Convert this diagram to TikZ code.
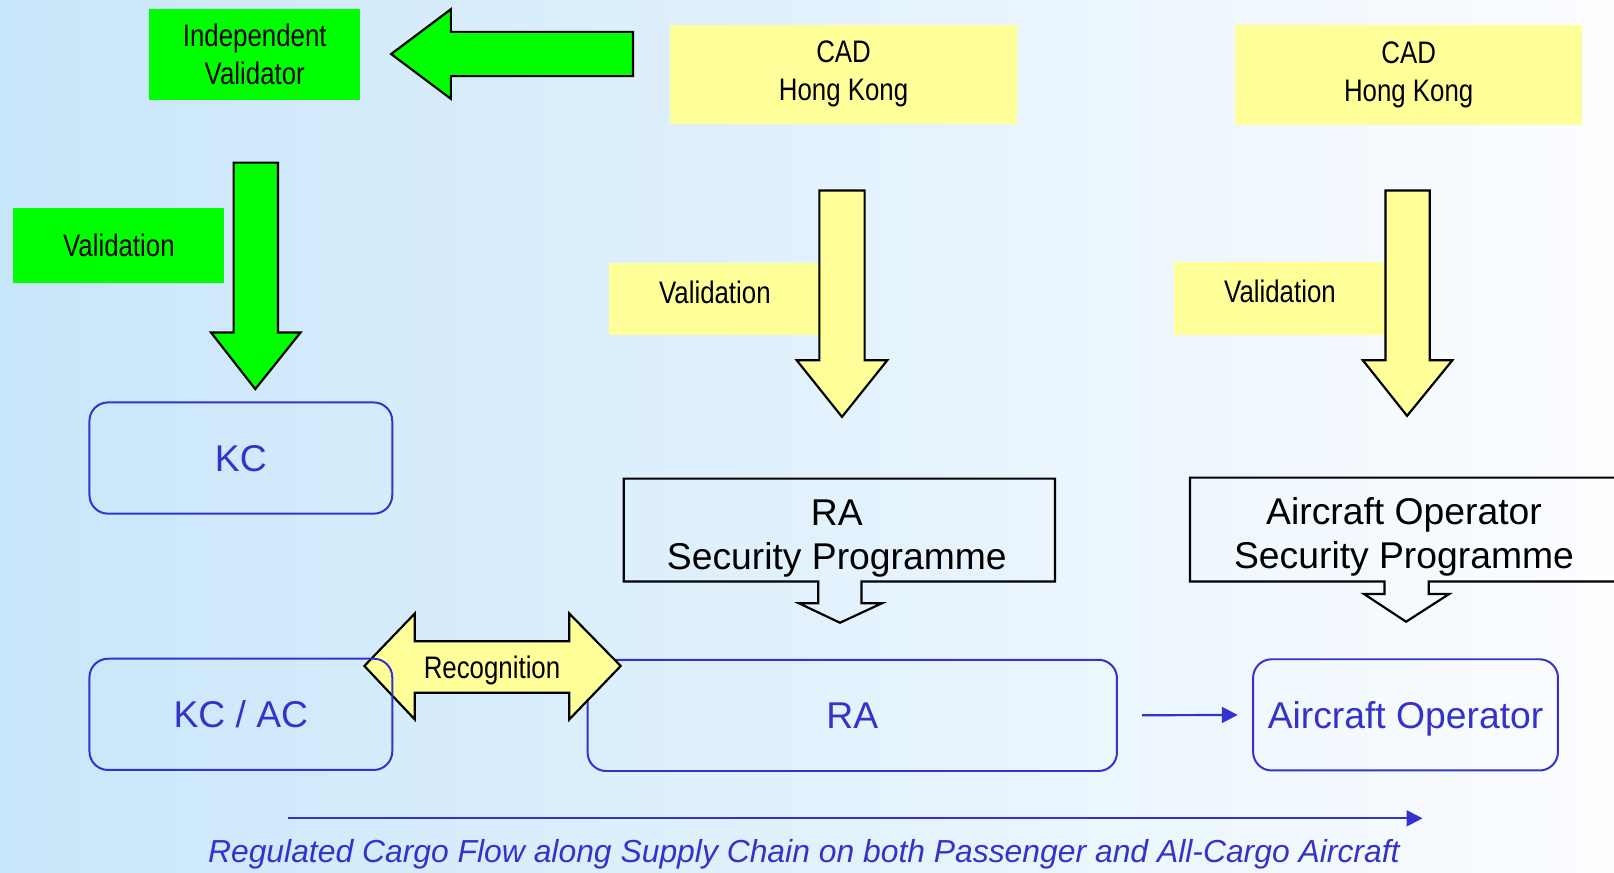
\documentclass[tikz,border=0pt]{standalone}
\usepackage{fontspec}
\setmainfont{Liberation Sans}
\newfontfamily\narrowsf[FakeStretch=0.83]{Liberation Sans}
\usetikzlibrary{arrows.meta}
\definecolor{cblue}{RGB}{51,51,204}
\definecolor{vgreen}{RGB}{0,255,0}
\definecolor{pyellow}{RGB}{255,255,153}
\definecolor{bgleft}{RGB}{200,230,250}
\definecolor{bgright}{RGB}{252,253,255}
\tikzset{
  smalltext/.style={font=\narrowsf\fontsize{8.6}{10.4}\selectfont, align=center, text=black},
  gbox/.style={smalltext, fill=vgreen, inner sep=0pt},
  ybox/.style={smalltext, fill=pyellow, inner sep=0pt},
  rbox/.style={draw=cblue, line width=0.55pt, rounded corners=0.18cm, minimum height=1.08cm,
               text=cblue, font=\fontsize{10.3}{12}\selectfont, inner sep=0pt, text depth=0pt},
  blockarrow/.style={draw=black, line width=0.6pt, line join=miter},
  calltext/.style={font=\fontsize{10.3}{12.2}\selectfont, align=center, text=black},
  flow/.style={draw=cblue, line width=0.6pt, -{Triangle[length=4.4pt,width=4.4pt]}},
  caption/.style={font=\itshape\fontsize{8.8}{10}\selectfont, text=cblue}
}
\begin{document}
\begin{tikzpicture}[x=0.01cm,y=-0.01cm]
\shade[left color=bgleft, right color=bgright] (0,0) rectangle (1568,847.2);
\useasboundingbox (0,0) rectangle (1568,847.2);
\clip (0,0) rectangle (1568,847.2);

% top boxes
\node[gbox, minimum width=2.05cm, minimum height=0.88cm] (iv) at (247.5,53) {Independent\\Validator};
\node[gbox, minimum width=2.05cm, minimum height=0.73cm] (valg) at (115.5,238.5) {Validation};
\node[ybox, minimum width=3.37cm, minimum height=0.96cm] (cad1) at (819.5,72) {CAD\\Hong Kong};
\node[ybox, minimum width=3.37cm, minimum height=0.97cm] (cad2) at (1368.5,72.5) {CAD\\Hong Kong};
\node[ybox, minimum width=2.05cm, minimum height=0.69cm, text depth=4pt] (val1) at (694.5,290.5) {Validation};
\node[ybox, minimum width=2.05cm, minimum height=0.70cm, text depth=4pt] (val2) at (1243.5,290) {Validation};

% block arrows
\draw[blockarrow, fill=vgreen] (615,31) -- (438,31) -- (438,9) -- (380,52.5) -- (438,96) -- (438,74) -- (615,74) -- cycle;
\draw[blockarrow, fill=vgreen] (227,158) -- (270,158) -- (270,323) -- (292,323) -- (248,378) -- (205,323) -- (227,323) -- cycle;
\draw[blockarrow, fill=pyellow] (796,185) -- (840,185) -- (840,350) -- (862,350) -- (818,405) -- (774,350) -- (796,350) -- cycle;
\draw[blockarrow, fill=pyellow] (1346,185) -- (1389,185) -- (1389,350) -- (1411,350) -- (1367,404) -- (1324,350) -- (1346,350) -- cycle;

% KC box
\node[rbox, minimum width=2.94cm] (kc) at (234,445) {KC};

% callouts
\draw[blockarrow] (606,465) -- (1025,465) -- (1025,565) -- (837,565) -- (837,586) -- (857,586) -- (816,605) -- (776,586) -- (795,586) -- (795,565) -- (606,565) -- cycle;
\node[calltext] (rasp) at (813,523.5) {RA\\Security Programme};
\draw[blockarrow] (1600,464) -- (1156,464) -- (1156,565) -- (1345,565) -- (1345,577) -- (1325,577) -- (1366,604) -- (1408,577) -- (1388,577) -- (1388,565) -- (1600,565);
\node[calltext] (aosp) at (1364,521.5) {Aircraft Operator\\Security Programme};

% bottom row
\node[rbox, minimum width=5.14cm] (ra) at (828,695) {RA};
\draw[blockarrow, fill=pyellow] (354,647) -- (403,596) -- (403,623) -- (553,623) -- (553,596) -- (603,647) -- (553,699) -- (553,673) -- (403,673) -- (403,699) -- cycle;
\node[smalltext, text depth=0pt] (recog) at (478,648) {Recognition};
\node[rbox, minimum width=2.94cm] (kcac) at (234,694) {KC / AC};
\node[rbox, minimum width=2.96cm] (ao) at (1365.5,694.5) {Aircraft Operator};

% flows
\draw[flow, shorten <=0.235cm, shorten >=0.14cm] (ra.east) -- (ao.west);
\coordinate (fs) at (280,795);
\coordinate (fe) at (1382,795);
\draw[flow] (fs) -- (fe);
\node[caption] (cap) at (781,830) {Regulated Cargo Flow along Supply Chain on both Passenger and All-Cargo Aircraft};
\end{tikzpicture}
\end{document}
